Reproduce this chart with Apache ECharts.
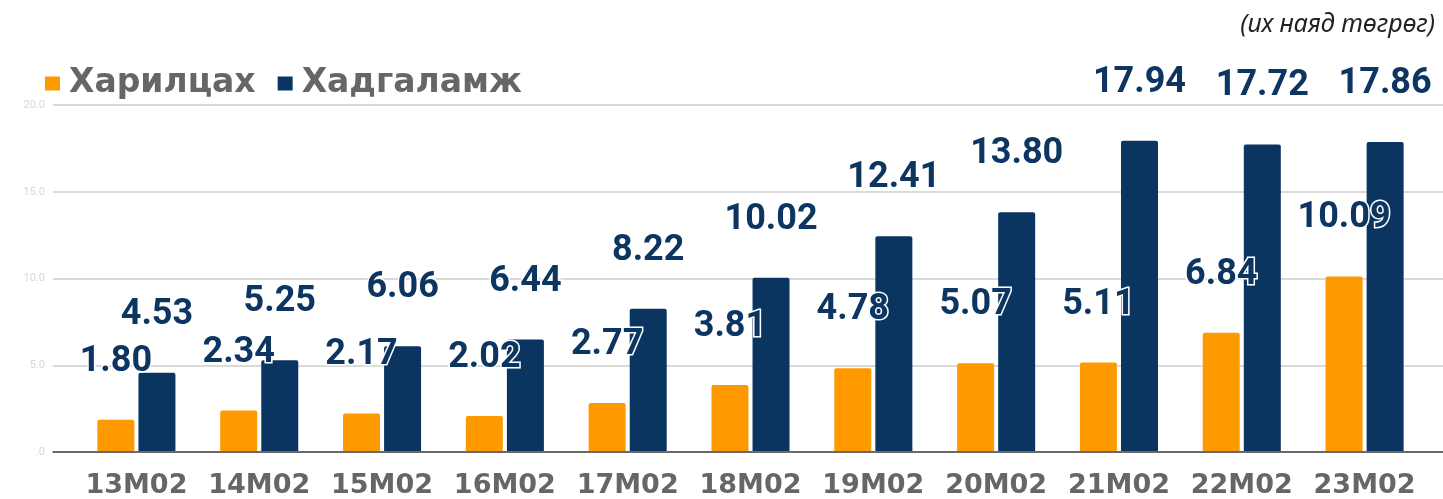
<!DOCTYPE html>
<html><head><meta charset="utf-8">
<script src="https://cdn.jsdelivr.net/npm/echarts@6/dist/echarts.min.js"></script>
<style>html,body{margin:0;padding:0;background:#fff}#c{width:1443px;height:499px}</style>
</head><body><div id="c"></div>
<script>
const categories = ['13M02','14M02','15M02','16M02','17M02','18M02','19M02','20M02','21M02','22M02','23M02'];
const currentAcc = [1.80, 2.34, 2.17, 2.02, 2.77, 3.81, 4.78, 5.07, 5.11, 6.84, 10.09];
const savings = [4.53, 5.25, 6.06, 6.44, 8.22, 10.02, 12.41, 13.80, 17.94, 17.72, 17.86];
const seriesNames = ['Харилцах', 'Хадгаламж'];
const yTicks = [0, 5, 10, 15, 20];
const unitText = '(их наяд төгрөг)';

const chart = echarts.init(document.getElementById('c'), null, {renderer: 'canvas'});
const labelStyle = {
  show: true, position: 'top', distance: 40,
  fontFamily: 'Roboto', fontWeight: 'bold', fontSize: 36,
  color: '#0d3561', textBorderColor: '#fff', textBorderWidth: 3,
  formatter: p => p.value.toFixed(2)
};
chart.setOption({
  animation: false,
  title: {text: unitText, right: 3, top: 7,
    textStyle: {fontFamily: 'Noto Sans', fontStyle: 'italic', fontWeight: 'normal', fontSize: 25, color: '#222'}},
  legend: {
    left: 40, top: 62, itemWidth: 15, itemHeight: 14, itemGap: 22, icon: 'rect',
    data: seriesNames,
    textStyle: {fontFamily: 'DejaVu Sans', fontWeight: 'bold', fontSize: 33, color: '#666', padding: [0,0,0,4]}
  },
  grid: [
    {left: 53, right: 0, top: 105, bottom: 47},
    {left: 75, right: 17, top: 105, bottom: 47}
  ],
  xAxis: [
    {gridIndex: 0, type: 'category', data: categories, axisLine: {lineStyle: {color: '#444', width: 1.5}},
     axisTick: {show: false}, axisLabel: {show: false}},
    {gridIndex: 1, type: 'category', data: categories, axisLine: {show: false}, axisTick: {show: false},
     axisLabel: {interval: 0, margin: 21, fontFamily: 'DejaVu Sans', fontWeight: 'bold', fontSize: 27, color: '#666'}}
  ],
  yAxis: [
    {gridIndex: 0, type: 'value', min: yTicks[0], max: yTicks[yTicks.length-1], interval: 5,
     axisLine: {show: false}, axisTick: {show: false},
     axisLabel: {margin: 8, fontSize: 11, color: '#d8d8d8', fontFamily: 'Roboto',
       formatter: v => v === 0 ? '.0' : v.toFixed(1)},
     splitLine: {lineStyle: {color: '#cccccc', width: 1.5}}},
    {gridIndex: 1, type: 'value', min: 0, max: 20, interval: 5, show: false, splitLine: {show: false}}
  ],
  series: [
    {name: seriesNames[0], type: 'bar', xAxisIndex: 1, yAxisIndex: 1, data: currentAcc,
     barWidth: 37, barGap: '11%', itemStyle: {color: '#ff9900', borderRadius: [2,2,0,0]}, label: labelStyle, z: 2},
    {name: seriesNames[1], type: 'bar', xAxisIndex: 1, yAxisIndex: 1, data: savings,
     barWidth: 37, barGap: '11%', itemStyle: {color: '#0a3561', borderRadius: [2,2,0,0]}, label: labelStyle, z: 2}
  ]
});
</script></body></html>
